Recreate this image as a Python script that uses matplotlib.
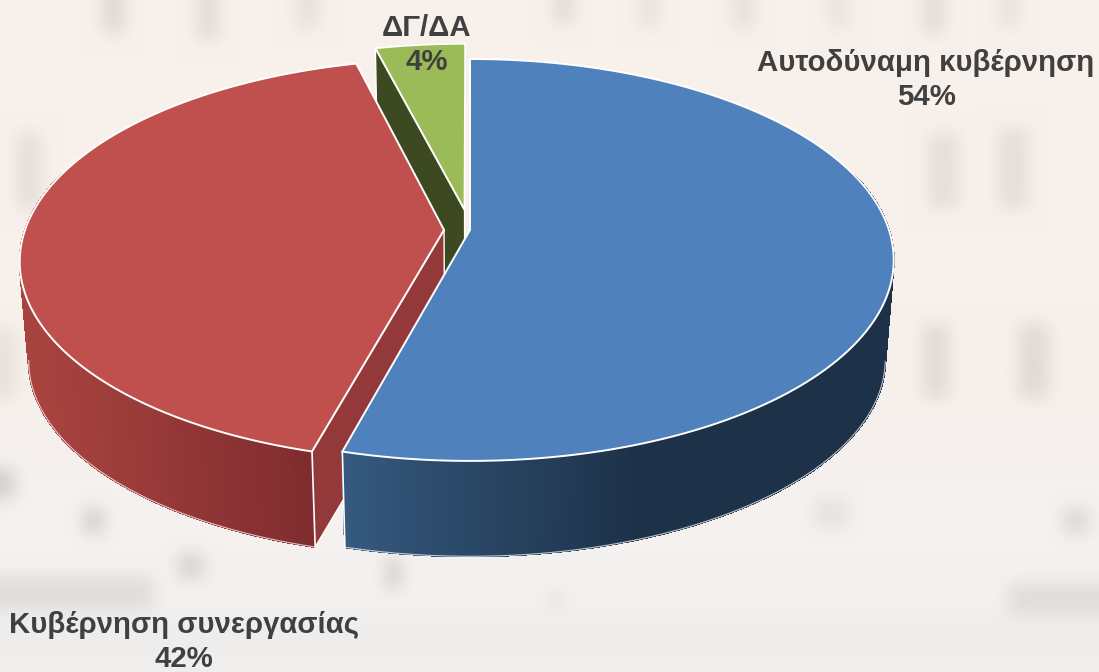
import numpy as np
import matplotlib
matplotlib.use("Agg")
import matplotlib.pyplot as plt

# chart data
categories = ["Αυτοδύναμη κυβέρνηση", "Κυβέρνηση συνεργασίας", "ΔΓ/ΔΑ"]
shares = [54.2, 41.8, 4.0]
explode = [0.0, 0.062, 0.105]
top_colors = ["#4f81bd", "#c0504d", "#9bbb59"]
label_xy = [(926, 80), (184, 642), (427, 45)]

# blurred building behind the chart: x0, y0, x1, y1, strength
windows = [
    (105, 0, 125, 35, 26), (200, 0, 220, 42, 22), (297, 0, 320, 30, 16),
    (555, 0, 575, 25, 22), (640, 0, 660, 30, 14), (735, 0, 755, 30, 18),
    (830, 0, 850, 30, 14), (925, 0, 945, 35, 22), (1000, 0, 1020, 30, 14),
    (18, 135, 42, 210, 18), (930, 135, 960, 210, 18), (1000, 130, 1030, 210, 18),
    (925, 325, 950, 400, 22), (1020, 325, 1050, 400, 22), (0, 330, 18, 400, 14),
    (0, 470, 16, 500, 34), (85, 510, 105, 535, 34), (180, 555, 205, 580, 30),
    (388, 560, 402, 590, 36), (550, 595, 565, 605, 24), (815, 500, 850, 530, 14),
    (1065, 510, 1090, 535, 26), (0, 578, 155, 610, 20), (1010, 585, 1099, 615, 20),
]

W, H = 1099, 672
cx, cy = 470, 230
rx, ry, k = 419, 196.5, 0.149
shrink, depth = 0.98, 100


def project(X, Y, bottom=False):
    w = 1 + k * Y
    px = rx * X / w
    py = ry * Y / w
    if bottom:
        return cx + shrink * px, cy - shrink * py + depth
    return cx + px, cy - py


def mix(c1, c2, t):
    a = np.array(matplotlib.colors.to_rgb(c1))
    b = np.array(matplotlib.colors.to_rgb(c2))
    return tuple(a + (b - a) * min(max(t, 0), 1))


def background():
    yy, xx = np.mgrid[0:H, 0:W]
    t = np.clip((yy - 330) / 300, 0, 1)
    img = np.zeros((H, W, 3))
    img[..., 0] = 247 - 4 * t
    img[..., 1] = 240 + 2 * t
    img[..., 2] = 235 + 6 * t
    img[yy > 610] -= 4
    for x0, y0, x1, y1, s in windows:
        img[y0:y1, x0:x1] -= s
    # box blur, three passes
    for _ in range(3):
        for axis in (0, 1):
            pad = [(8, 8) if a == axis else (0, 0) for a in range(3)]
            c = np.cumsum(np.pad(img, pad, mode="edge"), axis=axis)
            hi = np.take(c, range(16, c.shape[axis]), axis=axis)
            lo = np.take(c, range(0, c.shape[axis] - 16), axis=axis)
            img = (hi - lo) / 16
    return np.clip(img, 0, 255).astype(np.uint8)


fig = plt.figure(figsize=(W / 100, H / 100), dpi=100)
ax = fig.add_axes([0, 0, 1, 1])
ax.imshow(background(), extent=(0, W, H, 0), aspect="auto", zorder=0, interpolation="bilinear")
ax.set_xlim(0, W)
ax.set_ylim(H, 0)
ax.axis("off")

edges = np.cumsum([0] + shares) / sum(shares) * 2 * np.pi


def wedge_xy(i, n=300):
    th = np.linspace(edges[i], edges[i + 1], n)
    mid = (edges[i] + edges[i + 1]) / 2
    ox, oy = explode[i] * np.sin(mid), explode[i] * np.cos(mid)
    return np.sin(th) + ox, np.cos(th) + oy, ox, oy


def draw_radial_wall(X, Y, ox, oy, color):
    tx, ty = project(np.array([ox, X]), np.array([oy, Y]))
    bx, by = project(np.array([ox, X]), np.array([oy, Y]), bottom=True)
    ax.fill([tx[0], tx[1], bx[1], bx[0]], [ty[0], ty[1], by[1], by[0]],
            facecolor=color, edgecolor="white", linewidth=1.0, zorder=2)


def draw_rim(X, Y, shade):
    # side wall as narrow strips so that the colour can run across it
    tx, ty = project(X, Y)
    bx, by = project(X, Y, bottom=True)
    for j in range(len(X) - 1):
        c = shade((tx[j] + tx[j + 1]) / 2)
        ax.fill([tx[j], tx[j + 1], bx[j + 1], bx[j]], [ty[j], ty[j + 1], by[j + 1], by[j]],
                facecolor=c, edgecolor=c, linewidth=0.8, antialiased=False, zorder=2)
    low = Y < -0.15
    ax.plot(bx[low], by[low], color="white", lw=0.8, alpha=0.7, zorder=2)


def blue_shade(x):
    if x < 470:
        return mix("#35597f", "#2a4766", (x - 345) / 125)
    return mix("#2a4766", "#1d3149", (x - 470) / 170)


def red_shade(x):
    return mix("#a8433f", "#7f2c2e", (x - 40) / 270)


def draw_top(X, Y, ox, oy, color):
    px, py = project(np.r_[ox, X], np.r_[oy, Y])
    ax.fill(px, py, facecolor=color, edgecolor="white", linewidth=1.4,
            joinstyle="miter", zorder=3)


# back to front: green, red, blue
X, Y, ox, oy = wedge_xy(2)
draw_radial_wall(X[0], Y[0], ox, oy, "#3d4a21")
draw_top(X, Y, ox, oy, top_colors[2])

X, Y, ox, oy = wedge_xy(1)
draw_radial_wall(X[0], Y[0], ox, oy, "#94393a")
front = Y < 0.3
draw_rim(X[front], Y[front], red_shade)
tx, ty = project(X[0], Y[0])
bx, by = project(X[0], Y[0], bottom=True)
ax.plot([tx, bx], [ty, by], color="white", lw=1.2, zorder=3)
draw_top(X, Y, ox, oy, top_colors[1])

X, Y, ox, oy = wedge_xy(0)
front = Y < 0.3
draw_rim(X[front], Y[front], blue_shade)
tx, ty = project(X[-1], Y[-1])
bx, by = project(X[-1], Y[-1], bottom=True)
ax.plot([tx, bx], [ty, by], color="white", lw=1.2, zorder=3)
draw_top(X, Y, ox, oy, top_colors[0])

for name, v, (lx, ly) in zip(categories, shares, label_xy):
    ax.text(lx, ly, f"{name}\n{round(v)}%", ha="center", va="center", fontsize=21.2,
            fontweight="bold", family="Liberation Sans", color="#404040",
            linespacing=1.24, zorder=5)

fig.savefig("out.png", dpi=100)
